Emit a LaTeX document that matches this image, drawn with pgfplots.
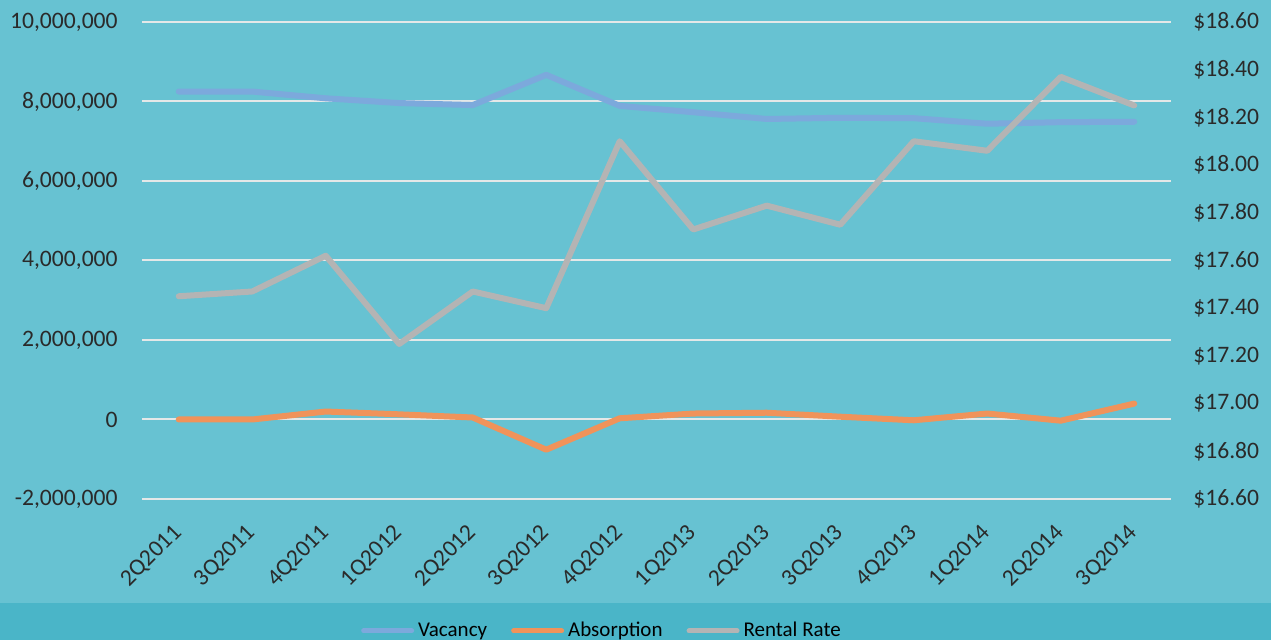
\documentclass[border=0pt]{standalone}
\usepackage{pgfplots}
\pgfplotsset{compat=1.18}
\usepackage{fontspec}
\setmainfont{Carlito}
\definecolor{bgmain}{HTML}{67C2D2}
\definecolor{bgband}{HTML}{4AB5C8}
\definecolor{gridc}{HTML}{E4E8E8}
\definecolor{vac}{HTML}{7CA9DC}
\definecolor{absc}{HTML}{F0935A}
\definecolor{rent}{HTML}{B4B4B4}
\definecolor{tickc}{HTML}{2A2A2A}
\begin{document}
\begin{tikzpicture}
\useasboundingbox (0pt,0pt) rectangle (635.5pt,320pt);
\fill[bgmain] (0pt,0pt) rectangle (635.5pt,320pt);
\fill[bgband] (0pt,0pt) rectangle (635.5pt,18.5pt);
\begin{axis}[
  at={(71pt,70.5pt)}, anchor=south west,
  scale only axis, width=514.5pt, height=238.5pt,
  xmin=-0.5, xmax=13.5, ymin=-2000000, ymax=10000000,
  axis line style={draw=none}, major tick length=0pt,
  xtick={0,...,13},
  xticklabels={2Q2011,3Q2011,4Q2011,1Q2012,2Q2012,3Q2012,4Q2012,1Q2013,2Q2013,3Q2013,4Q2013,1Q2014,2Q2014,3Q2014},
  xticklabel style={font=\fontsize{11.8}{14}\selectfont, text=tickc, rotate=45, anchor=east, inner sep=0pt},
  xticklabel shift=15pt,
  ytick={-2000000,0,2000000,4000000,6000000,8000000,10000000},
  yticklabels={{-2,000,000},{0},{2,000,000},{4,000,000},{6,000,000},{8,000,000},{10,000,000}},
  yticklabel style={font=\fontsize{11.8}{14}\selectfont, text=tickc, anchor=east, inner sep=0pt},
  yticklabel shift=12pt,
  scaled y ticks=false,
  ymajorgrids, grid style={draw=gridc, line width=1pt},
  axis y line*=left, axis x line*=bottom,
]
\addplot[vac, line width=3pt, line join=round, line cap=round] coordinates {
(0,8250000) (1,8250000) (2,8080000) (3,7960000) (4,7910000) (5,8670000) (6,7890000)
(7,7730000) (8,7560000) (9,7590000) (10,7580000) (11,7440000) (12,7480000) (13,7490000)};
\addplot[absc, line width=3pt, line join=round, line cap=round] coordinates {
(0,0) (1,0) (2,200000) (3,130000) (4,50000) (5,-760000) (6,30000)
(7,150000) (8,170000) (9,70000) (10,-20000) (11,150000) (12,-30000) (13,400000)};
\end{axis}
\begin{axis}[
  at={(71pt,70.5pt)}, anchor=south west,
  scale only axis, width=514.5pt, height=238.5pt,
  xmin=-0.5, xmax=13.5, ymin=16.6, ymax=18.6,
  axis x line=none, axis y line*=right,
  axis line style={draw=none}, major tick length=0pt,
  ytick={16.6,16.8,17.0,17.2,17.4,17.6,17.8,18.0,18.2,18.4,18.6},
  yticklabels={\$16.60,\$16.80,\$17.00,\$17.20,\$17.40,\$17.60,\$17.80,\$18.00,\$18.20,\$18.40,\$18.60},
  yticklabel style={font=\fontsize{11.8}{14}\selectfont, text=tickc, anchor=west, inner sep=0pt},
  yticklabel shift=11pt,
  legend style={at={(0.448,-0.2766)}, anchor=center, draw=none, fill=none,
    legend columns=3, font=\fontsize{10.5}{12}\selectfont, text=black,
    /tikz/every even column/.append style={column sep=10pt}},
  legend image code/.code={\draw[#1, line width=2.5pt, line cap=round] (0pt,0pt) -- (24pt,0pt);},
]
\addlegendimage{vac}
\addlegendentry{Vacancy}
\addlegendimage{absc}
\addlegendentry{Absorption}
\addplot[rent, line width=3pt, line join=round, line cap=round] coordinates {
(0,17.45) (1,17.47) (2,17.62) (3,17.25) (4,17.47) (5,17.40) (6,18.10)
(7,17.73) (8,17.83) (9,17.75) (10,18.10) (11,18.06) (12,18.37) (13,18.25)};
\addlegendentry{Rental Rate}
\end{axis}
\end{tikzpicture}
\end{document}
